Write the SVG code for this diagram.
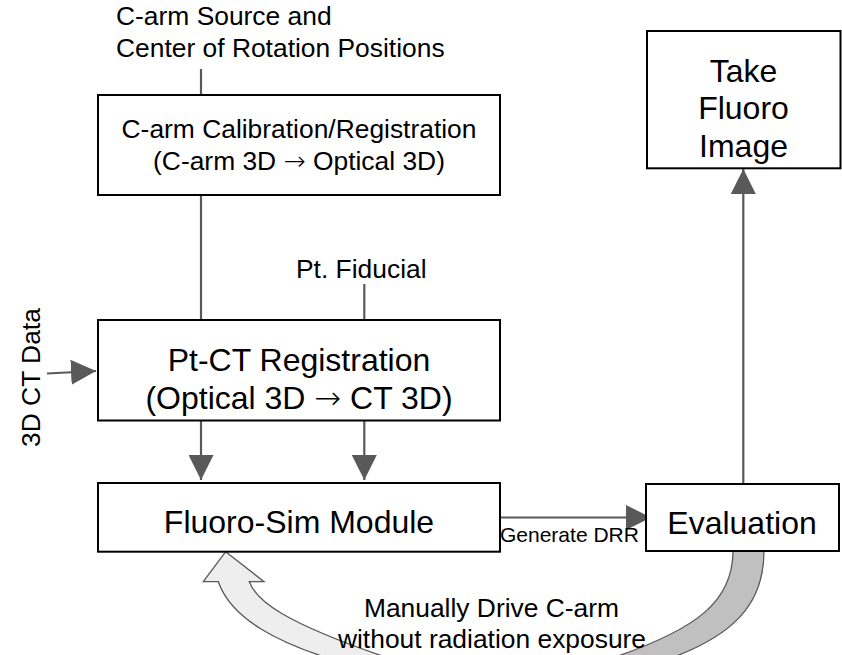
<svg xmlns="http://www.w3.org/2000/svg" width="842" height="655" viewBox="0 0 842 655">
<style>
.box{fill:#fff;stroke:#000;stroke-width:2}
.t{font-family:"Liberation Sans",Arial,sans-serif;fill:#000}
.m{text-anchor:middle}
.big{font-size:32px}
.med{font-size:26.4px}
.sm{font-size:21px}
.ar{font-family:"DejaVu Sans",sans-serif;font-weight:200}
.ln{stroke:#595959;stroke-width:2.2;fill:none}
.band{stroke:#595959;stroke-width:1.3}
</style>
<defs>
<marker id="ah" viewBox="0 0 25 25" refX="25" refY="12.5" markerWidth="25" markerHeight="25" markerUnits="userSpaceOnUse" orient="auto">
<path d="M0,0 L25,12.5 L0,25 Z" fill="#595959"/>
</marker>
</defs>
<g id="loop-arrows">
<path class="band" fill="#c0c0c0" d="M733,551 C733,600 700,630 600,662 L640,668 C740,640 764,600 764,551 Z"/>
<path class="band" fill="#eeeeee" d="M225.7,551.7 L264,581.7 L249.3,581.7 C256,600 280,622 400,662 L370,670 C270,645 230,615 218.3,581.7 L203.3,581.7 Z"/>
</g>
<g id="connectors">
<line class="ln" x1="201" y1="69" x2="201" y2="95"/>
<line class="ln" x1="201" y1="195" x2="201" y2="320"/>
<line class="ln" x1="364.3" y1="284" x2="364.3" y2="320"/>
<line class="ln" x1="47" y1="373.5" x2="96" y2="371" marker-end="url(#ah)"/>
<line class="ln" x1="201" y1="421" x2="201" y2="480" marker-end="url(#ah)"/>
<line class="ln" x1="364.3" y1="421" x2="364.3" y2="480" marker-end="url(#ah)"/>
<line class="ln" x1="500" y1="517.5" x2="651" y2="517.5" marker-end="url(#ah)"/>
<line class="ln" x1="743.3" y1="484" x2="743.3" y2="169" marker-end="url(#ah)"/>
</g>
<g id="label-source">
<text class="t med" x="116" y="25">C-arm Source and</text>
<text class="t med" x="116" y="57.3">Center of Rotation Positions</text>
</g>
<g id="node-calibration">
<rect class="box" x="98" y="95" width="402" height="100"/>
<text class="t med m" x="299" y="138.3">C-arm Calibration/Registration</text>
<text class="t med m" x="299" y="170">(C-arm 3D <tspan class="ar">→</tspan> Optical 3D)</text>
</g>
<g id="label-fiducial">
<text class="t med" x="296" y="277.7">Pt. Fiducial</text>
</g>
<g id="label-ct">
<text class="t med" transform="translate(40,447) rotate(-90)">3D CT Data</text>
</g>
<g id="node-ptct">
<rect class="box" x="98" y="320" width="402" height="100.5"/>
<text class="t big m" x="299" y="370.7">Pt-CT Registration</text>
<text class="t big m" x="299" y="409.3">(Optical 3D <tspan class="ar">→</tspan> CT 3D)</text>
</g>
<g id="node-fluorosim">
<rect class="box" x="98" y="483" width="402" height="68.7"/>
<text class="t big m" x="299" y="532.7">Fluoro-Sim Module</text>
</g>
<g id="label-drr">
<text class="t sm" x="500" y="541.7">Generate DRR</text>
</g>
<g id="node-evaluation">
<rect class="box" x="646" y="484" width="193" height="67"/>
<text class="t big m" x="742" y="534">Evaluation</text>
</g>
<g id="node-take">
<rect class="box" x="647" y="31" width="193.5" height="137.3"/>
<text class="t big m" x="743.5" y="81.5">Take</text>
<text class="t big m" x="743.5" y="119.3">Fluoro</text>
<text class="t big m" x="743.5" y="156.5">Image</text>
</g>
<g id="label-manual">
<text class="t med m" x="491.5" y="617.3">Manually Drive C-arm</text>
<text class="t med m" x="492" y="648.3">without radiation exposure</text>
</g>
</svg>
